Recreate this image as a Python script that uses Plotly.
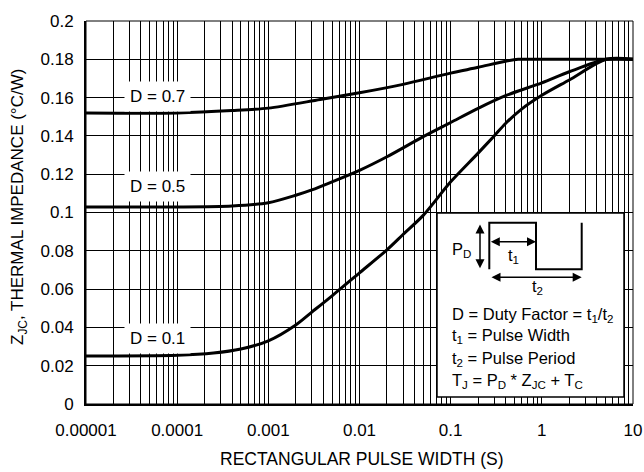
import plotly.graph_objects as go

# ---------------- data ----------------
x_d07 = [1e-5, 1e-4, 4e-4, 1e-3, 3.7e-3, 0.01, 0.03, 0.1, 0.2, 0.4, 0.55, 1.0, 3.0, 10.0]
y_d07 = [0.152, 0.152, 0.1532, 0.1545, 0.159, 0.1625, 0.1669, 0.1728, 0.1758, 0.1790, 0.180, 0.180, 0.180, 0.180]

x_d05 = [1e-5, 1e-4, 4e-4, 1e-3, 2e-3, 3e-3, 5e-3, 0.01, 0.02, 0.05, 0.1, 0.2, 0.4, 1.0, 2.0, 5.1, 10.0]
y_d05 = [0.1029, 0.1029, 0.1034, 0.1051, 0.1090, 0.1118, 0.1160, 0.1220, 0.1291, 0.1396, 0.1470, 0.1544,
         0.1610, 0.1677, 0.1735, 0.180, 0.180]

x_d01 = [1e-5, 1e-4, 2.5e-4, 5e-4, 1e-3, 2e-3, 3e-3, 5e-3, 0.01, 0.02, 0.03, 0.05, 0.1,
         0.2, 0.3, 0.4, 0.6, 1.0, 2.0, 5.1, 10.0]
y_d01 = [0.0251, 0.0255, 0.0266, 0.0287, 0.0330, 0.0413, 0.0480, 0.0565, 0.0685, 0.0805, 0.0885,
         0.0985, 0.1160, 0.1310, 0.1400, 0.1465, 0.1540, 0.1612, 0.1692, 0.180, 0.180]

series = [(x_d07, y_d07, "D = 0.7"), (x_d05, y_d05, "D = 0.5"), (x_d01, y_d01, "D = 0.1")]

x_tickvals = [1e-5, 1e-4, 1e-3, 1e-2, 1e-1, 1, 10]
x_ticktext = ["0.00001", "0.0001", "0.001", "0.01", "0.1", "1", "10"]
y_tickvals = [0, 0.02, 0.04, 0.06, 0.08, 0.1, 0.12, 0.14, 0.16, 0.18, 0.2]
y_ticktext = ["0", "0.02", "0.04", "0.06", "0.08", "0.1", "0.12", "0.14", "0.16", "0.18", "0.2"]

# curve label positions (x as log10 of pulse width, y in data units)
label_pos = {"D = 0.7": (-4.216, 0.1605),
             "D = 0.5": (-4.216, 0.1135),
             "D = 0.1": (-4.216, 0.0343)}

minor_vals = [k * d for d in x_tickvals[:-1] for k in range(2, 10)]

FONT = "Liberation Sans, Arial, Helvetica, sans-serif"

# plot area in pixels
L, R, T, B = 86, 633, 21, 404
W, H = R - L, B - T


def px(x):
    return (x - L) / W


def py(y):
    return (B - y) / H


fig = go.Figure()
for xs, ys, name in series:
    fig.add_trace(go.Scatter(x=xs, y=ys, mode="lines", name=name,
                             line=dict(color="black", width=3, shape="spline", smoothing=0.8),
                             showlegend=False, hoverinfo="skip"))

shapes = []
# plot border
shapes.append(dict(type="rect", xref="paper", yref="paper", x0=0, x1=1, y0=0, y1=1,
                   line=dict(color="black", width=1), layer="above"))
# inset box
shapes.append(dict(type="rect", xref="paper", yref="paper", x0=px(437), x1=px(624), y0=py(397), y1=py(213),
                   fillcolor="white", line=dict(color="black", width=1.5), layer="above"))
# pulse waveform
pts = [(489.3, 269.3), (489.3, 222.7), (536, 222.7), (536, 269.3), (581.7, 269.3), (581.7, 222.7)]
path = "M " + " L ".join(f"{px(a):.5f},{py(b):.5f}" for a, b in pts)
shapes.append(dict(type="path", xref="paper", yref="paper", path=path,
                   line=dict(color="black", width=2), layer="above"))

annotations = []
for name, (lx, ly) in label_pos.items():
    annotations.append(dict(x=lx, y=ly, xref="x", yref="y", text=name, showarrow=False,
                            font=dict(family=FONT, size=17, color="black"),
                            bgcolor="white", borderpad=5, xanchor="center", yanchor="middle"))


def arrow(x0, y0, x1, y1):
    return dict(x=px(x1), y=py(y1), xref="paper", yref="paper", ax=x0 - x1, ay=y0 - y1,
                axref="pixel", ayref="pixel", text="", showarrow=True, arrowside="end+start",
                arrowhead=2, arrowsize=1.2, arrowwidth=1.5, arrowcolor="black", standoff=0, startstandoff=0)


annotations.append(arrow(480, 223, 480, 268.3))
annotations.append(arrow(489.3, 241.7, 536, 241.7))
annotations.append(arrow(490, 277.3, 581.7, 277.3))

small = dict(family=FONT, size=16.5, color="black")
annotations.append(dict(x=px(461), y=py(250), xref="paper", yref="paper", text="P<sub>D</sub>",
                        showarrow=False, font=small, xanchor="center", yanchor="middle"))
annotations.append(dict(x=px(513), y=py(256), xref="paper", yref="paper", text="t<sub>1</sub>",
                        showarrow=False, font=small, xanchor="center", yanchor="middle"))
annotations.append(dict(x=px(537.7), y=py(287), xref="paper", yref="paper", text="t<sub>2</sub>",
                        showarrow=False, font=small, xanchor="center", yanchor="middle"))
inset_lines = [("D = Duty Factor = t<sub>1</sub>/t<sub>2</sub>", 315),
               ("t<sub>1</sub> = Pulse Width", 336),
               ("t<sub>2</sub> = Pulse Period", 358.5),
               ("T<sub>J</sub> = P<sub>D</sub> * Z<sub>JC</sub> + T<sub>C</sub>", 381)]
for txt, yy in inset_lines:
    annotations.append(dict(x=px(450), y=py(yy), xref="paper", yref="paper", text=txt,
                            showarrow=False, font=small, xanchor="left", yanchor="middle"))

# axis titles
annotations.append(dict(x=px(362), y=py(459), xref="paper", yref="paper",
                        text="RECTANGULAR PULSE WIDTH (S)", showarrow=False,
                        font=dict(family=FONT, size=17.5, color="black"),
                        xanchor="center", yanchor="middle"))
annotations.append(dict(x=px(18.5), y=py(207.5), xref="paper", yref="paper",
                        text="Z<sub>JC</sub>, THERMAL IMPEDANCE (°C/W)", showarrow=False, textangle=-90,
                        font=dict(family=FONT, size=17, color="black"),
                        xanchor="center", yanchor="middle"))

fig.update_layout(
    width=644, height=472,
    margin=dict(l=L, r=644 - R, t=T, b=472 - B, autoexpand=False),
    paper_bgcolor="white", plot_bgcolor="white",
    font=dict(family=FONT, size=17, color="black"),
    shapes=shapes, annotations=annotations,
    xaxis=dict(type="log", range=[-5, 1], tickmode="array", tickvals=x_tickvals, ticktext=x_ticktext,
               showgrid=True, gridcolor="black", gridwidth=1, automargin=False,
               minor=dict(tickmode="array", tickvals=minor_vals, showgrid=True, gridcolor="black",
                          gridwidth=1, ticks=""),
               showline=True, linecolor="black", linewidth=2, ticks="", ticklabelstandoff=10,
               zeroline=False, tickfont=dict(family=FONT, size=17, color="black")),
    yaxis=dict(range=[0, 0.2], tickmode="array", tickvals=y_tickvals, ticktext=y_ticktext,
               showgrid=True, gridcolor="black", gridwidth=1, automargin=False,
               showline=True, linecolor="black", linewidth=2, ticks="", ticklabelstandoff=7,
               zeroline=False, tickfont=dict(family=FONT, size=17, color="black")),
)

fig.write_html("out.html", config={"displayModeBar": False},
               post_script="document.body.style.margin='0px';document.body.style.overflow='hidden';")
